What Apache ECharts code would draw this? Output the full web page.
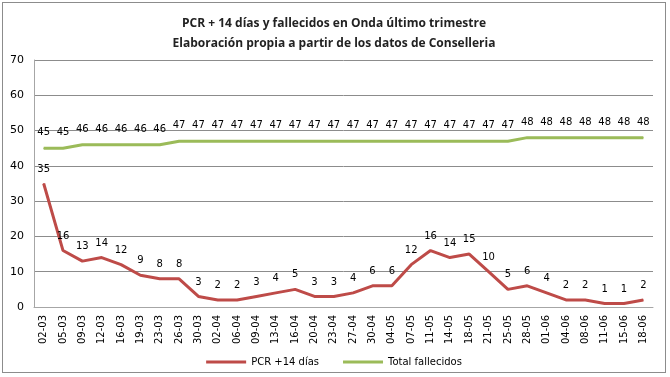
<!DOCTYPE html>
<html>
<head>
<meta charset="utf-8">
<script src="https://cdn.jsdelivr.net/npm/echarts@6/dist/echarts.min.js"></script>
<style>
  html, body { margin: 0; padding: 0; background: #fff; }
  #chart { width: 664px; height: 371px; border: 1px solid #8c8c8c; margin: 2px; box-sizing: border-box; }
</style>
</head>
<body>
<div id="chart"></div>
<script>
// fechas (dd-mm)
const fechas = ['02-03', '05-03', '09-03', '12-03', '16-03', '19-03', '23-03', '26-03', '30-03', '02-04',
  '06-04', '09-04', '13-04', '16-04', '20-04', '23-04', '27-04', '30-04', '04-05', '07-05',
  '11-05', '14-05', '18-05', '21-05', '25-05', '28-05', '01-06', '04-06', '08-06', '11-06',
  '15-06', '18-06']
const pcr14 = [35, 16, 13, 14, 12, 9, 8, 8, 3, 2, 2, 3, 4, 5, 3, 3, 4, 6, 6, 12, 16, 14, 15, 10, 5, 6, 4, 2, 2, 1, 1, 2]
const totalFallecidos = [45, 45, 46, 46, 46, 46, 46, 47, 47, 47, 47, 47, 47, 47, 47, 47, 47, 47, 47, 47,
  47, 47, 47, 47, 47, 48, 48, 48, 48, 48, 48, 48]

const myChart = echarts.init(document.getElementById('chart'))
const labelFont = { fontFamily: 'DejaVu Sans', fontSize: 10, color: '#000' }

const option = {
  animation: false,
  title: {
    text: 'PCR + 14 días y fallecidos en Onda último trimestre\nElaboración propia a partir de los datos de Conselleria',
    left: 'center',
    top: 6,
    textStyle: { fontFamily: 'Open Sans', fontSize: 12, fontWeight: 'bold', color: '#222', lineHeight: 20 }
  },
  legend: {
    bottom: 0,
    left: 'center',
    itemWidth: 40,
    itemHeight: 3,
    itemGap: 24,
    icon: 'rect',
    textStyle: { fontFamily: 'DejaVu Sans', fontSize: 10, color: '#000' },
    data: ['PCR +14 días', 'Total fallecidos']
  },
  grid: { left: 31, right: 12, top: 57, bottom: 65 },
  xAxis: {
    type: 'category',
    data: fechas,
    boundaryGap: true,
    axisLine: { lineStyle: { color: '#a6a6a6', width: 1 } },
    axisTick: { show: false },
    axisLabel: { rotate: 90, interval: 0, margin: 8, ...labelFont }
  },
  yAxis: {
    type: 'value',
    min: 0,
    max: 70,
    interval: 10,
    axisLine: { show: true, lineStyle: { color: '#a6a6a6' } },
    axisTick: { show: false },
    axisLabel: { margin: 10, fontFamily: 'DejaVu Sans', fontSize: 11, color: '#000' },
    splitLine: { lineStyle: { color: '#8c8c8c', width: 1 } }
  },
  series: [
    {
      name: 'PCR +14 días',
      type: 'line',
      data: pcr14,
      symbol: 'circle',
      symbolSize: 1,
      showAllSymbol: true,
      lineStyle: { color: '#be4b48', width: 3 },
      itemStyle: { color: '#be4b48' },
      label: { show: true, position: 'top', distance: 9, ...labelFont }
    },
    {
      name: 'Total fallecidos',
      type: 'line',
      data: totalFallecidos,
      symbol: 'circle',
      symbolSize: 1,
      showAllSymbol: true,
      lineStyle: { color: '#9bbb59', width: 3 },
      itemStyle: { color: '#9bbb59' },
      label: { show: true, position: 'top', distance: 10, ...labelFont }
    }
  ]
}
myChart.setOption(option)
</script>
</body>
</html>
